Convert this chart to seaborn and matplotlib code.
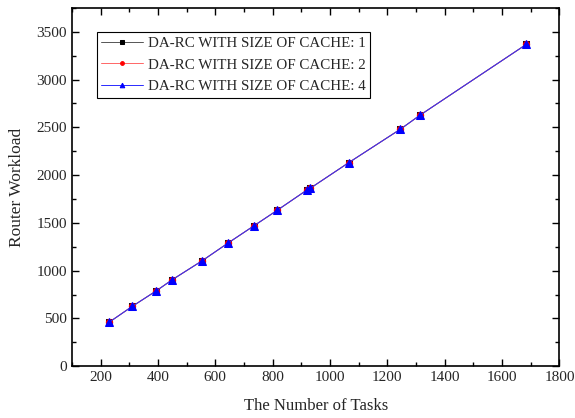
import numpy as np
import pandas as pd
import matplotlib
matplotlib.use("Agg")
import matplotlib.pyplot as plt
import seaborn as sns
from matplotlib.ticker import MultipleLocator

tasks = [230, 310, 395, 450, 555, 645, 735, 815, 920, 930, 1065, 1245, 1315, 1685]
workload_c1 = [460, 625, 790, 905, 1105, 1290, 1470, 1630, 1845, 1860, 2130, 2480, 2630, 3370]
workload_c2 = [460, 625, 790, 905, 1105, 1290, 1470, 1630, 1845, 1860, 2130, 2480, 2630, 3370]
workload_c4 = [460, 625, 790, 905, 1105, 1290, 1470, 1630, 1845, 1860, 2130, 2480, 2630, 3370]
series_labels = ["DA-RC WITH SIZE OF CACHE: 1", "DA-RC WITH SIZE OF CACHE: 2", "DA-RC WITH SIZE OF CACHE: 4"]

sns.set_style("white")
plt.rcParams['font.family'] = ['Liberation Serif', 'DejaVu Serif']

fig = plt.figure(figsize=(5.75, 4.18), dpi=100)
ax = fig.add_axes([0.125, 0.124, 0.848, 0.857])

colors = ["black", "red", "blue"]
line_colors = ["#555555", "#ff6666", "#2a2aff"]
markers = ["s", "o", "^"]
msizes = [4.5, 4.5, 5.5]
for lab, vals, c, lc, m, ms in zip(series_labels, [workload_c1, workload_c2, workload_c4], colors, line_colors, markers, msizes):
    df = pd.DataFrame({"tasks": tasks, "workload": vals})
    sns.lineplot(data=df, x="tasks", y="workload", ax=ax, color=lc, marker=m,
                 markersize=ms, linewidth=0.7, markeredgecolor=c, markerfacecolor=c,
                 label=lab)

ax.set_xlim(100, 1800)
ax.set_ylim(0, 3750)
ax.xaxis.set_major_locator(MultipleLocator(200))
ax.xaxis.set_minor_locator(MultipleLocator(100))
ax.yaxis.set_major_locator(MultipleLocator(500))
ax.yaxis.set_minor_locator(MultipleLocator(250))
ax.tick_params(which='both', direction='in', top=True, right=True, bottom=True, left=True,
               labelsize=11, color='black')
ax.tick_params(which='major', length=5, width=1)
ax.tick_params(which='minor', length=3, width=1)
for s in ax.spines.values():
    s.set_color('black')
    s.set_linewidth(1.2)

ax.set_xlabel("The Number of Tasks", fontsize=12, labelpad=10)
ax.set_ylabel("Router Workload", fontsize=12.5, labelpad=8)

leg = ax.legend(loc='upper left', bbox_to_anchor=(0.051, 0.933), fontsize=10.8,
                frameon=True, fancybox=False, edgecolor='black', framealpha=1,
                borderpad=0.3, labelspacing=0.55, handlelength=2.8, handletextpad=0.3,
                borderaxespad=0, markerscale=0.6)
leg.get_frame().set_linewidth(0.8)

fig.savefig("out.png", dpi=100)
